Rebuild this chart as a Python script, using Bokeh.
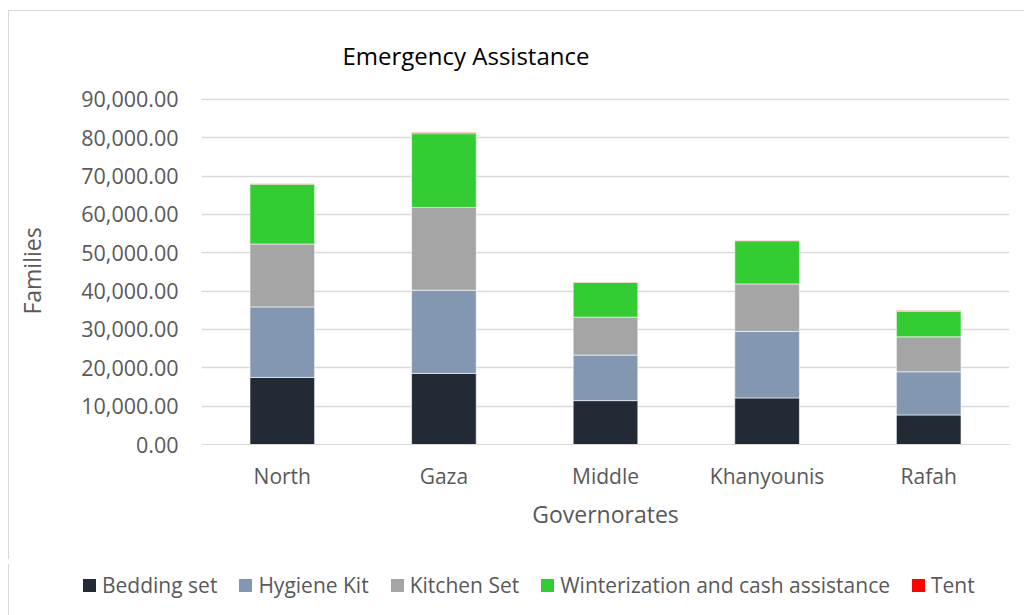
from bokeh.plotting import figure
from bokeh.layouts import column
from bokeh.models import (ColumnDataSource, NumeralTickFormatter, FixedTicker, Range1d, Div)
from bokeh.embed import file_html
from bokeh.resources import INLINE

governorates = ["North", "Gaza", "Middle", "Khanyounis", "Rafah"]
bedding = [17500, 18550, 11450, 12150, 7700]
hygiene = [18400, 21700, 11880, 17340, 11270]
kitchen = [16400, 21590, 9890, 12400, 9110]
winterization = [15600, 19250, 9100, 11270, 6680]
tent = [150, 300, 100, 100, 200]
y_ticks = [0, 10000, 20000, 30000, 40000, 50000, 60000, 70000, 80000, 90000]

series = ["Bedding set", "Hygiene Kit", "Kitchen Set", "Winterization and cash assistance", "Tent"]
colors = ["#222a35", "#8497b0", "#a5a5a5", "#33cc33", "#ff0000"]

source = ColumnDataSource(data={
    "gov": governorates,
    "Bedding set": bedding,
    "Hygiene Kit": hygiene,
    "Kitchen Set": kitchen,
    "Winterization and cash assistance": winterization,
    "Tent": tent,
})

FONT = "Open Sans"
TXT = "#595959"
BORDER = "1px solid #d9d9d9"

p = figure(x_range=governorates, width=1016, height=549, output_backend="svg",
           toolbar_location=None, min_border_left=192, min_border_right=16,
           min_border_top=85, min_border_bottom=116, y_range=Range1d(0, 90520))
p.styles = {"margin-left": "8px", "margin-top": "10px",
            "border-left": BORDER, "border-top": BORDER}
p.title.text = "Emergency Assistance"
p.title.text_font = FONT
p.title.text_font_size = "24px"
p.title.text_font_style = "normal"
p.title.text_color = "#000000"
p.title.align = "left"
p.title.offset = 141
p.title.standoff = 51

renderers = p.vbar_stack(series, x="gov", width=0.4, source=source, color=colors,
                         line_color="white", line_width=0.6)

p.yaxis.ticker = FixedTicker(ticks=y_ticks)
p.yaxis.formatter = NumeralTickFormatter(format="0,0.00")
p.yaxis.axis_line_color = None
p.yaxis.major_tick_line_color = None
p.yaxis.minor_tick_line_color = None
p.yaxis.major_label_standoff = 17
p.yaxis.axis_label = "Families"
p.yaxis.axis_label_standoff = 30
p.xaxis.axis_label = "Governorates"
p.xaxis.axis_label_standoff = 5
p.xaxis.major_label_standoff = 11
p.xaxis.axis_line_color = "#d9d9d9"
p.xaxis.major_tick_line_color = None
p.xaxis.minor_tick_line_color = None
p.yaxis.major_label_text_font_size = "21.5px"
p.xaxis.major_label_text_font_size = "21px"
for ax in (p.xaxis, p.yaxis):
    ax.major_label_text_font = FONT
    ax.major_label_text_color = TXT
    ax.axis_label_text_font = FONT
    ax.axis_label_text_font_size = "23px"
    ax.axis_label_text_font_style = "normal"
    ax.axis_label_text_color = TXT

p.xgrid.grid_line_color = None
p.ygrid.grid_line_color = "#d9d9d9"
p.ygrid.grid_line_width = 1.5
p.outline_line_color = None
p.x_range.range_padding = 0.0

# Legend strip below the chart, built from the same series names and colours
items_html = "".join(
    f'<span style="display:inline-flex;align-items:center;margin-right:22px;white-space:nowrap">'
    f'<span style="display:inline-block;width:13px;height:13px;background:{c};margin-right:6px"></span>'
    f'{s}</span>'
    for s, c in zip(series, colors)
)
legend_div = Div(
    text=(f'<div style="display:flex;align-items:center;height:42px;padding-left:74px;'
          f'font-family:\'{FONT}\';font-size:21px;color:{TXT};line-height:1">{items_html}</div>'),
    width=1016, height=55,
    styles={"margin-left": "8px", "border-left": BORDER},
)

layout = column(p, legend_div, spacing=0)
open("out.html", "w").write(file_html(layout, INLINE))
